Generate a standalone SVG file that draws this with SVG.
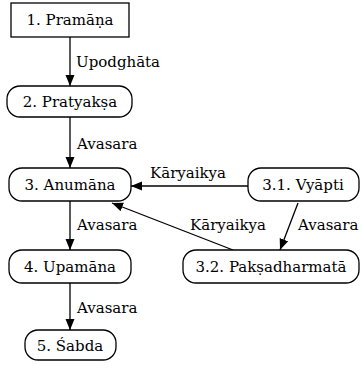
<svg xmlns="http://www.w3.org/2000/svg" width="361" height="369" viewBox="0 0 361 369">
<defs>
<style>
.n{fill:#fff;stroke:#000;stroke-width:1.3}
.t{font-family:"DejaVu Serif","Liberation Serif",serif;font-size:15px;fill:#000;text-anchor:middle}
.l{font-family:"DejaVu Serif","Liberation Serif",serif;font-size:15px;fill:#000}
.e{stroke:#000;stroke-width:1.3;fill:none;marker-end:url(#a)}
</style>
<marker id="a" markerWidth="12" markerHeight="12" refX="11" refY="6" orient="auto" markerUnits="userSpaceOnUse">
<path d="M0,1.5 L11,6 L0,10.5 Z" fill="#000"/>
</marker>
</defs>
<rect width="361" height="369" fill="#fff"/>
<g id="edges">
<line class="e" x1="70" y1="37" x2="70" y2="86"/>
<text class="l" x="76" y="67">Upodghāta</text>
<line class="e" x1="70" y1="117" x2="70" y2="168"/>
<text class="l" x="77" y="149">Avasara</text>
<line class="e" x1="248" y1="186" x2="131" y2="186"/>
<text class="l" x="150" y="178">Kāryaikya</text>
<line class="e" x1="233" y1="250" x2="112" y2="203"/>
<text class="l" x="190" y="230">Kāryaikya</text>
<line class="e" x1="298" y1="203" x2="280" y2="250"/>
<text class="l" x="298" y="230">Avasara</text>
<line class="e" x1="70" y1="201" x2="70" y2="250"/>
<text class="l" x="77" y="230">Avasara</text>
<line class="e" x1="70" y1="283" x2="70" y2="330"/>
<text class="l" x="77" y="313">Avasara</text>
</g>
<g id="n1"><rect class="n" x="11" y="3" width="118" height="34"/><text class="t" x="70" y="25">1. Pramāṇa</text></g>
<g id="n2"><rect class="n" x="7" y="86" width="125" height="31" rx="13"/><text class="t" x="70" y="107">2. Pratyakṣa</text></g>
<g id="n3"><rect class="n" x="9" y="168" width="122" height="33" rx="13"/><text class="t" x="70" y="190">3. Anumāna</text></g>
<g id="n31"><rect class="n" x="248" y="168" width="111" height="33" rx="13"/><text class="t" x="303" y="190">3.1. Vyāpti</text></g>
<g id="n32"><rect class="n" x="183" y="250" width="176" height="33" rx="13"/><text class="t" x="271" y="272">3.2. Pakṣadharmatā</text></g>
<g id="n4"><rect class="n" x="9" y="250" width="122" height="33" rx="13"/><text class="t" x="70" y="272">4. Upamāna</text></g>
<g id="n5"><rect class="n" x="25" y="330" width="91" height="30" rx="13"/><text class="t" x="70" y="351">5. Śabda</text></g>
</svg>
